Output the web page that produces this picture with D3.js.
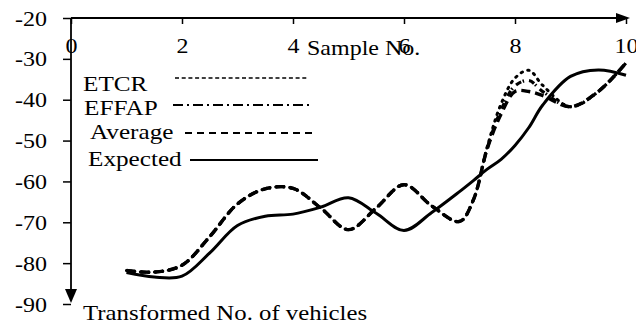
<!DOCTYPE html>
<html>
<head>
<meta charset="utf-8">
<script src="https://cdn.jsdelivr.net/npm/d3@7"></script>
<style>
  body { margin: 0; background: #fff; }
  text { font-family: "Liberation Serif", "Times New Roman", serif; fill: #000; }
</style>
</head>
<body>
<div id="chart"></div>
<script>
// sample positions (shared by every series)
var samples = [1, 1.5, 2, 2.5, 3, 3.5, 4, 4.5, 5, 5.5, 6, 6.5, 7, 7.25, 7.5, 7.75, 8, 8.25, 8.5, 9, 9.5, 10];

var etcr     = [-81.8, -82.2, -80.5, -73.5, -65.5, -61.8, -61.7, -66.5, -71.8, -66.5, -60.8, -66.0, -69.8, -64.5, -51.5, -41.0, -34.7, -32.8, -36.5, -41.7, -38.0, -31.0];
var effap    = [-81.8, -82.2, -80.5, -73.5, -65.5, -61.8, -61.7, -66.5, -71.8, -66.5, -60.8, -66.0, -69.8, -64.5, -51.8, -42.5, -36.6, -35.3, -38.0, -41.7, -38.0, -31.0];
var average  = [-81.8, -82.2, -80.5, -73.5, -65.5, -61.8, -61.7, -66.5, -71.8, -66.5, -60.8, -66.0, -69.8, -64.5, -52.0, -43.5, -38.0, -38.0, -39.0, -41.7, -38.0, -31.0];
var expected = [-82.3, -83.4, -83.2, -77.5, -70.8, -68.5, -68.0, -66.3, -64.0, -67.8, -72.0, -67.6, -62.5, -59.8, -57.0, -54.6, -51.2, -46.8, -41.3, -34.3, -32.7, -34.0];

var xTicks = [0, 2, 4, 6, 8, 10];
var yTicks = [-20, -30, -40, -50, -60, -70, -80, -90];

var legendNames = ["ETCR", "EFFAP", "Average", "Expected"];

var width = 636, height = 327;
var sx = 1.2; // the original text is stretched sideways

var svg = d3.select('#chart').append('svg')
    .attr('width', width)
    .attr('height', height);

var x = d3.scaleLinear().domain([0, 10]).range([71, 626]);
var y = d3.scaleLinear().domain([-20, -90]).range([18, 304]);

// dash patterns share one period (14) so the gaps of the overlapping curves line up
var styles = {
  ETCR:     { dash: "1.5,5.5",    w: 3,   ldash: "4,2.7",        lw: 1.5 },
  EFFAP:    { dash: "6,1.5,1.5,5",w: 3.2, ldash: "10,4,2,4",     lw: 2 },
  Average:  { dash: "9,5",        w: 3.4, ldash: "7,5",          lw: 1.8 },
  Expected: { dash: null,         w: 3,   ldash: null,           lw: 2.2 }
};

var series = [
  { name: "ETCR", values: etcr },
  { name: "EFFAP", values: effap },
  { name: "Average", values: average },
  { name: "Expected", values: expected }
];

var line = d3.line()
    .x(function (d) { return x(d[0]); })
    .y(function (d) { return y(d[1]); })
    .curve(d3.curveCatmullRom.alpha(0.5));

// axes
var xAxis = d3.axisBottom(x).tickValues(xTicks).tickSize(6).tickSizeOuter(0).tickPadding(15);
var gx = svg.append('g').attr('transform', 'translate(0,' + y(-20) + ')').call(xAxis);
gx.select('.domain').remove();
gx.selectAll('line').attr('stroke', '#000').attr('stroke-width', 1.5);
gx.selectAll('text')
    .style('font-size', '20px')
    .attr('transform', 'scale(' + sx + ',1)');

var yAxis = d3.axisLeft(y).tickValues(yTicks).tickSize(8).tickSizeOuter(0).tickFormat('');
var gy = svg.append('g').attr('transform', 'translate(' + x(0) + ',0)').call(yAxis);
gy.select('.domain').remove();
gy.selectAll('line').attr('stroke', '#000').attr('stroke-width', 1.5);

svg.append('g').selectAll('text')
    .data(yTicks)
    .enter()
    .append('text')
    .attr('transform', function (d) { return 'translate(15,' + (y(d) + 7.5) + ') scale(' + sx + ',1)'; })
    .style('font-size', '20px')
    .text(function (d) { return d3.format('d')(d).replace('\u2212', '-'); });

// axis lines with arrows
svg.append('line')
    .attr('x1', x(0)).attr('x2', 620)
    .attr('y1', y(-20)).attr('y2', y(-20))
    .attr('stroke', '#000').attr('stroke-width', 1.8);
svg.append('path')
    .attr('d', 'M616,' + (y(-20) - 5) + 'L630,' + y(-20) + 'L616,' + (y(-20) + 5) + 'Z')
    .attr('fill', '#000');

svg.append('line')
    .attr('x1', x(0)).attr('x2', x(0))
    .attr('y1', y(-20)).attr('y2', 292)
    .attr('stroke', '#000').attr('stroke-width', 1.8);
svg.append('path')
    .attr('d', 'M' + (x(0) - 6) + ',289L' + x(0) + ',303L' + (x(0) + 6) + ',289Z')
    .attr('fill', '#000');

// axis titles
svg.append('text')
    .attr('transform', 'translate(307,55) scale(' + sx + ',1)')
    .style('font-size', '20px')
    .text('Sample No.');
svg.append('text')
    .attr('transform', 'translate(83,320) scale(1.24,1)')
    .style('font-size', '20px')
    .text('Transformed No. of vehicles');

// curves
svg.append('g').selectAll('path')
    .data(series)
    .enter()
    .append('path')
    .attr('d', function (s) {
        return line(s.values.map(function (v, i) { return [samples[i], v]; }));
    })
    .attr('fill', 'none')
    .attr('stroke', '#000')
    .attr('stroke-width', function (s) { return styles[s.name].w; })
    .attr('stroke-dasharray', function (s) { return styles[s.name].dash; })
    .attr('stroke-linecap', function (s) { return s.name == 'ETCR' ? 'round' : 'butt'; });

// legend
var legendText = [[83, 91], [84, 115], [90, 139], [88, 166]];
var legendLine = [[175, 308, 78], [173, 310, 105], [185, 314, 133], [190, 318, 160]];

var lg = svg.append('g');
legendNames.forEach(function (n, i) {
    lg.append('text')
        .attr('transform', 'translate(' + legendText[i][0] + ',' + legendText[i][1] + ') scale(' + sx + ',1)')
        .style('font-size', '21px')
        .text(n);
    lg.append('line')
        .attr('x1', legendLine[i][0]).attr('x2', legendLine[i][1])
        .attr('y1', legendLine[i][2]).attr('y2', legendLine[i][2])
        .attr('stroke', '#000')
        .attr('stroke-width', styles[n].lw)
        .attr('stroke-dasharray', styles[n].ldash);
});
</script>
</body>
</html>
